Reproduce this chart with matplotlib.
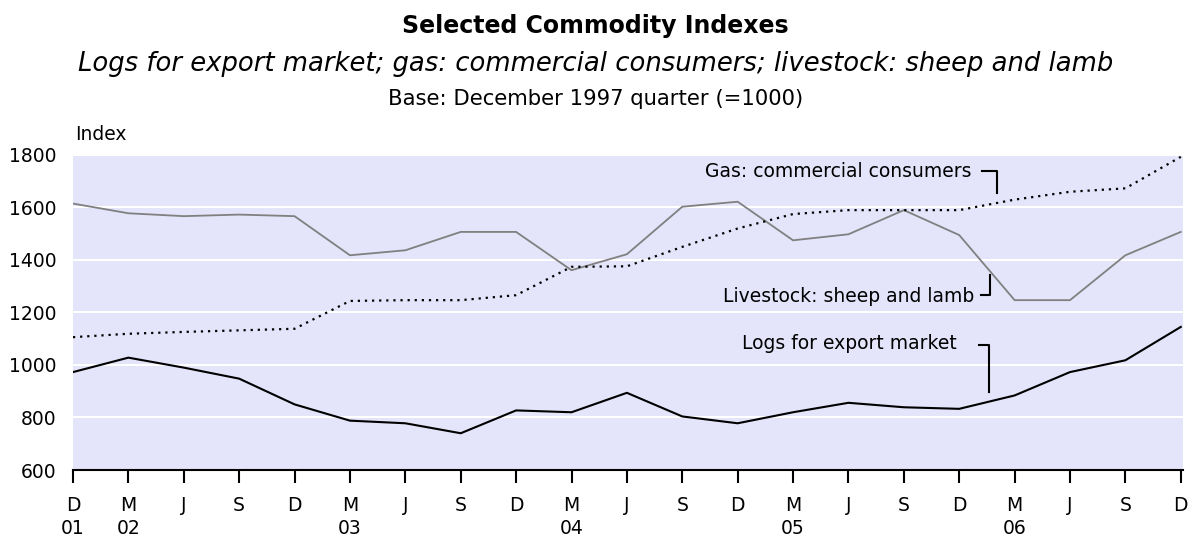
import numpy as np
import matplotlib
matplotlib.use('Agg')
import matplotlib.pyplot as plt

plt.rcParams['font.family'] = ['DejaVu Sans']

# ── DATA ──────────────────────────────────────────────────────────
quarters = ['D', 'M', 'J', 'S', 'D', 'M', 'J', 'S', 'D', 'M', 'J',
            'S', 'D', 'M', 'J', 'S', 'D', 'M', 'J', 'S', 'D']
years = ['01', '02', '', '', '', '03', '', '', '', '04', '',
         '', '', '05', '', '', '', '06', '', '', '']

logs = [973, 1028, 990, 948, 850, 788, 778, 740, 827, 820, 894,
        804, 778, 820, 856, 839, 833, 884, 973, 1018, 1145]
gas = [1106, 1119, 1126, 1132, 1138, 1244, 1247, 1247, 1266, 1374, 1376,
       1450, 1520, 1575, 1590, 1590, 1590, 1630, 1660, 1673, 1793]
livestock = [1615, 1578, 1567, 1573, 1567, 1418, 1437, 1507, 1507, 1361, 1422,
             1603, 1622, 1475, 1498, 1590, 1495, 1247, 1247, 1418, 1507]

x = np.arange(len(quarters))

# ── FIGURE ────────────────────────────────────────────────────────
fig = plt.figure(figsize=(11.91, 5.4), dpi=100)
ax = fig.add_axes([73 / 1191, 70 / 540, 1110 / 1191, 315 / 540])
ax.set_facecolor('#E4E4FA')

ax.plot(x, livestock, color='#808080', linewidth=1.3, zorder=3)
ax.plot(x, gas, color='black', linewidth=1.6, linestyle=(0, (1, 2.2)), zorder=3)
ax.plot(x, logs, color='black', linewidth=1.5, zorder=3)

ax.set_xlim(0, 20.04)
ax.set_ylim(600, 1800)
ax.set_yticks([600, 800, 1000, 1200, 1400, 1600, 1800])
ax.yaxis.grid(True, color='white', linewidth=1.5)
ax.set_axisbelow(True)

ax.set_xticks(x)
ax.set_xticklabels(quarters, fontsize=13.5)
ax.tick_params(axis='x', length=9.5, width=1.5, direction='out', pad=9)
ax.tick_params(axis='y', length=0, pad=12, labelsize=13.5)

# year labels under the quarter letters
for xi, yr in zip(x, years):
    if yr:
        ax.text(xi, -0.2032, yr, fontsize=13.5, ha='center', va='baseline',
                transform=ax.get_xaxis_transform())

for s in ['top', 'right', 'left']:
    ax.spines[s].set_visible(False)
ax.spines['bottom'].set_linewidth(1.5)

# ── LABELS WITH BRACKETS ──────────────────────────────────────────
ax.text(16.23, 1736, 'Gas: commercial consumers', fontsize=13.5,
        ha='right', va='center')
ax.plot([16.41, 16.68, 16.68], [1739, 1739, 1656], color='black', linewidth=1.5)

ax.text(16.27, 1262, 'Livestock: sheep and lamb', fontsize=13.5,
        ha='right', va='center')
ax.plot([16.39, 16.55, 16.55], [1266, 1266, 1342], color='black', linewidth=1.5)

ax.text(15.96, 1082, 'Logs for export market', fontsize=13.5,
        ha='right', va='center')
ax.plot([16.36, 16.54, 16.54], [1075, 1075, 899], color='black', linewidth=1.5)

# ── TITLES ────────────────────────────────────────────────────────
fig.text(0.5, 1 - 26 / 540, 'Selected Commodity Indexes', fontsize=17,
         fontweight='bold', ha='center', va='center')
fig.text(0.5, 1 - 64 / 540,
         'Logs for export market; gas: commercial consumers; livestock: sheep and lamb',
         fontsize=18.6, style='italic', ha='center', va='center')
fig.text(0.5, 1 - 99 / 540, 'Base: December 1997 quarter (=1000)',
         fontsize=15.2, ha='center', va='center')
fig.text(75 / 1191, 1 - 134 / 540, 'Index', fontsize=13.5,
         ha='left', va='center')

fig.savefig('out.png', dpi=100)
